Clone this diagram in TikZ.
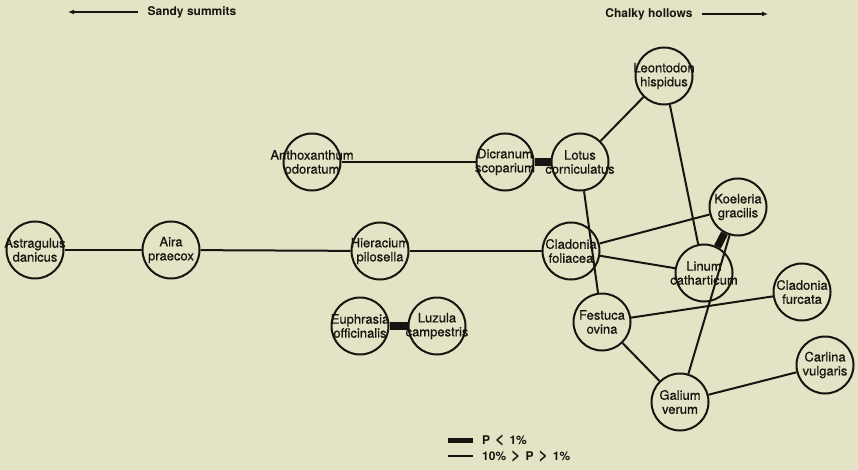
\documentclass[tikz,border=0pt]{standalone}
\usepackage{fontspec}
\setmainfont{TeX Gyre Heros}
\newfontfamily\labfont{TeX Gyre Heros}[FakeBold=0.6]
\usetikzlibrary{arrows.meta}
\definecolor{paper}{RGB}{229,227,197}
\definecolor{ink}{RGB}{24,20,16}
\newcommand{\bigrel}[1]{\hspace{5pt}\smash{\fontsize{16}{16}\selectfont #1}\hspace{5pt}}

\begin{document}
\begin{tikzpicture}[x=1pt, y=-1pt, ink,
        sp/.style={circle, draw, line width=2pt, minimum size=57pt, inner sep=0pt},
        splab/.style={font=\labfont\fontsize{13}{14}\selectfont, align=center, inner sep=0pt},
        weak/.style={line width=2pt},
        strong/.style={line width=7.5pt},
        head/.style={font=\fontsize{12}{13}\selectfont\bfseries},
        headarrow/.style={line width=2pt, -{Latex[length=6pt, width=5pt]}}]
        \fill[paper] (0, 0) rectangle (858, 470);
        \node[head] (sandy) at (192, 12) {Sandy summits};
        \coordinate (sandyend) at (68, 12);
        \draw[headarrow, shorten <=6pt] (sandy.west) -- (sandyend);
        \node[head] (chalky) at (649, 14) {Chalky hollows};
        \coordinate (chalkyend) at (768, 14);
        \draw[headarrow, shorten <=6pt] (chalky.east) -- (chalkyend);
        \node[sp, label={[splab]center:Astragulus\\danicus}] (astr) at (35, 250) {};
        \node[sp, label={[splab]center:Aira\\praecox}] (aira) at (171, 250) {};
        \node[sp, label={[splab]center:Hieracium\\pilosella}] (hier) at (380, 251) {};
        \node[sp, label={[splab]center:Cladonia\\foliacea}] (clfol) at (571, 251) {};
        \node[sp, label={[splab]center:Anthoxanthum\\odoratum}] (antho) at (312, 162) {};
        \node[sp, label={[splab]center:Dicranum\\scoparium}] (dicr) at (505, 162) {};
        \node[sp, label={[splab]center:Lotus\\corniculatus}] (lotus) at (580, 162) {};
        \node[sp, label={[splab]center:Leontodon\\hispidus}] (leon) at (664, 76) {};
        \node[sp, label={[splab]center:Koeleria\\gracilis}] (koel) at (738, 207) {};
        \node[sp, label={[splab]center:Linum\\catharticum}] (linum) at (704, 273) {};
        \node[sp, label={[splab]center:Cladonia\\furcata}] (clfur) at (802, 292) {};
        \node[sp, label={[splab]center:Festuca\\ovina}] (fest) at (602, 322) {};
        \node[sp, label={[splab]center:Galium\\verum}] (gal) at (680, 402) {};
        \node[sp, label={[splab]center:Carlina\\vulgaris}] (carl) at (825, 365) {};
        \node[sp, label={[splab]center:Euphrasia\\officinalis}] (euph) at (360, 326) {};
        \node[sp, label={[splab]center:Luzula\\campestris}] (luz) at (437, 326) {};
        \draw[weak] (astr) -- (aira);
        \draw[weak] (aira) -- (hier);
        \draw[weak] (hier) -- (clfol);
        \draw[weak] (antho) -- (dicr);
        \draw[strong] (dicr) -- (lotus);
        \draw[weak] (lotus) -- (leon);
        \draw[weak] (lotus) -- (fest);
        \draw[weak] (leon) -- (linum);
        \draw[strong] (koel) -- (linum);
        \draw[weak] (koel) -- (clfol);
        \draw[weak] (koel) -- (gal);
        \draw[weak] (clfol) -- (linum);
        \draw[weak] (fest) -- (clfur);
        \draw[weak] (fest) -- (gal);
        \draw[weak] (gal) -- (carl);
        \draw[strong] (euph) -- (luz);
        \node[head, anchor=west, inner sep=1pt] (lgstrong) at (481, 440) {P\bigrel{<}1\%};
        \node[head, anchor=west, inner sep=1pt] (lgweak) at (481, 456) {10\%\bigrel{>}P\bigrel{>}1\%};
        \coordinate (lgs) at (448, 440);
        \coordinate (lgw) at (448, 456);
        \draw[strong, line width=5pt, shorten >=8pt] (lgs) -- (lgstrong.west);
        \draw[weak, shorten >=8pt] (lgw) -- (lgweak.west);
\end{tikzpicture}
\end{document}
